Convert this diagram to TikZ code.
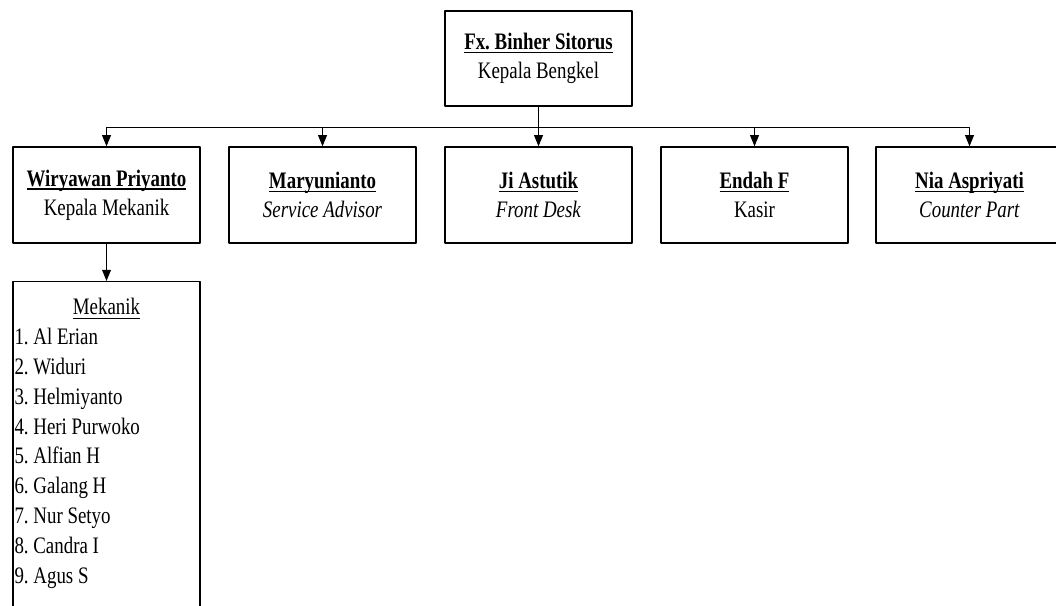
\documentclass[tikz,border=0pt]{standalone}
\usepackage{fontspec}
\setmainfont{Liberation Serif}[FakeStretch=0.8]
\frenchspacing
\usetikzlibrary{arrows.meta}
\tikzset{
  every picture/.style={line join=round, >={Triangle[length=0.28cm,width=0.22cm]}},
  box/.style={draw, line width=0.9pt, minimum width=4.675cm, minimum height=2.4cm, align=center, inner sep=0pt},
  link/.style={line width=0.9pt, ->},
}
\newlength{\garislen}
% underline: #1 thickness, #2 text
\newcommand{\garis}[2]{\settowidth{\garislen}{#2}#2\llap{\rule[-2.6pt]{\garislen}{#1}}}
\newcommand{\nama}[1]{\garis{1.1pt}{\textbf{#1}}}

\begin{document}
\begin{tikzpicture}[font=\fontsize{16.8}{20.5}\selectfont]
\useasboundingbox (0,0) rectangle (26.4,15.15);
\clip (0,0) rectangle (26.4,15.15);
\node[box, minimum height=2.375cm] (kepala) at (13.463,13.688) {\nama{Fx. Binher Sitorus}\\Kepala Bengkel};
\node[box] (mekanik) at (2.663,10.275) {\nama{Wiryawan Priyanto}\\Kepala Mekanik};
\node[box] (advisor) at (8.063,10.275) {\nama{Maryunianto}\\\textit{Service Advisor}};
\node[box] (desk) at (13.463,10.275) {\nama{Ji Astutik}\\\textit{Front Desk}};
\node[box] (kasir) at (18.863,10.275) {\nama{Endah F}\\Kasir};
\node[box] (counter) at (24.238,10.275) {\nama{Nia Aspriyati}\\\textit{Counter Part}};
\node[box, anchor=north, minimum height=0pt] (daftar) at (2.663,8.125) {\parbox[t][9cm][t]{4.6cm}{\fontsize{16.8}{21.2}\selectfont
  \vspace*{0.42cm}\centering\garis{0.6pt}{Mekanik}\par
  \raggedright
  1. Al Erian\\
  2. Widuri\\
  3. Helmiyanto\\
  4. Heri Purwoko\\
  5. Alfian H\\
  6. Galang H\\
  7. Nur Setyo\\
  8. Candra I\\
  9. Agus S}};
\coordinate (bus) at (13.463,11.963);
\draw[link] (kepala) -- (desk);
\foreach \n in {mekanik,advisor,kasir,counter}
  \draw[link] (kepala.south) -- (kepala.south |- bus) -| (\n.north);
\draw[link] (mekanik) -- (daftar);
\end{tikzpicture}
\end{document}
